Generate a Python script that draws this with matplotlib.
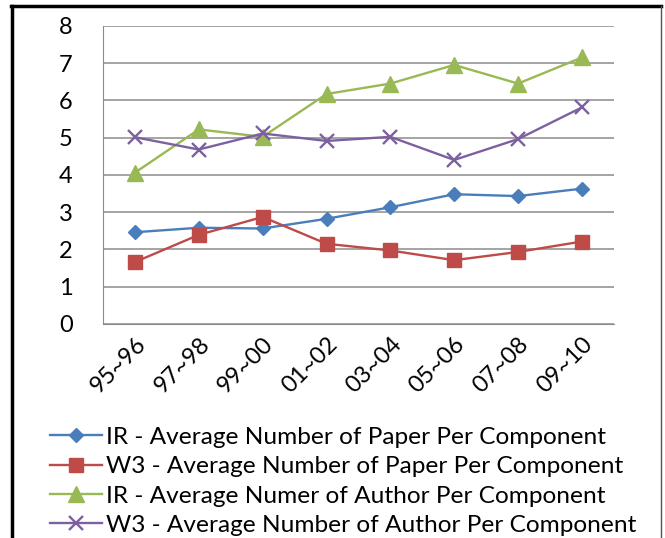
import matplotlib.pyplot as plt
from matplotlib.lines import Line2D

periods = ["95~96", "97~98", "99~00", "01~02", "03~04", "05~06", "07~08", "09~10"]
ir_paper = [2.46, 2.58, 2.56, 2.82, 3.13, 3.48, 3.43, 3.63]
w3_paper = [1.66, 2.39, 2.87, 2.15, 1.97, 1.71, 1.93, 2.21]
ir_author = [4.06, 5.22, 5.02, 6.17, 6.45, 6.95, 6.45, 7.15]
w3_author = [5.01, 4.68, 5.11, 4.91, 5.02, 4.40, 4.96, 5.81]

labels = [
    "IR - Average Number of Paper Per Component",
    "W3 - Average Number of Paper Per Component",
    "IR - Average Numer of Author Per Component",
    "W3 - Average Number of Author Per Component",
]

plt.rcParams["font.family"] = ["Lato", "DejaVu Sans"]

fig = plt.figure(figsize=(6.65, 5.38), dpi=100)
ax = fig.add_axes([0.155, 0.398, 0.768, 0.554])

x = range(len(periods))
ax.plot(x, ir_paper, color="#4A7EBB", lw=1.7, marker="D", ms=7.5, label=labels[0])
ax.plot(x, w3_paper, color="#BE4B48", lw=1.7, marker="s", ms=10, label=labels[1])
ax.plot(x, ir_author, color="#98B954", lw=1.7, marker="^", ms=11, label=labels[2])
ax.plot(x, w3_author, color="#7D60A0", lw=1.7, marker="x", ms=10, mew=1.7, label=labels[3])

ax.set_xlim(-0.5, 7.5)
ax.set_ylim(0, 8)
ax.set_yticks(range(9))
ax.set_xticks(list(x))
ax.set_xticklabels(periods, rotation=45, ha="right", rotation_mode="anchor")
ax.tick_params(axis="both", length=0, labelsize=17, colors="black")
ax.tick_params(axis="x", pad=7)
ax.tick_params(axis="y", pad=22)

ax.grid(axis="y", color="#8C8C8C", lw=1.1)
ax.set_axisbelow(True)
for side in ["top", "right"]:
    ax.spines[side].set_visible(False)
ax.spines["left"].set_color("#8C8C8C")
ax.spines["bottom"].set_color("#8C8C8C")

fig.legend(loc="upper left", bbox_to_anchor=(0.075, 0.207), frameon=False,
           fontsize=17.6, handlelength=2.15, handletextpad=0.15, labelspacing=0.34,
           borderaxespad=0, borderpad=0)

# outer frame
fig.add_artist(Line2D([0.018, 0.018], [0, 0.988], color="black", lw=2.5))
fig.add_artist(Line2D([0.017, 0.994], [0.988, 0.988], color="black", lw=2.5))
fig.add_artist(Line2D([0.994, 0.994], [0, 0.988], color="#555555", lw=1.0))

fig.savefig("out.png")
